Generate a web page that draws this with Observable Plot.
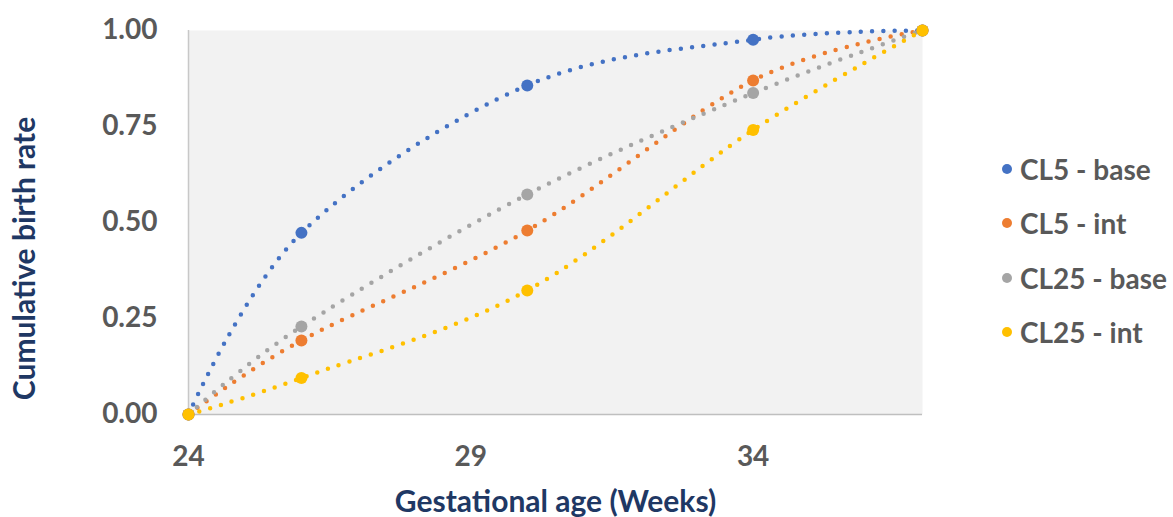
<!DOCTYPE html>
<html>
<head>
<meta charset="utf-8">
<script src="https://cdn.jsdelivr.net/npm/d3@7"></script>
<script src="https://cdn.jsdelivr.net/npm/@observablehq/plot@0.6"></script>
<style>
  html, body { margin: 0; padding: 0; background: #ffffff; }
  #wrap { position: relative; width: 1173px; height: 517px; font-family: Lato, "Open Sans", sans-serif; }
  #legend { position: absolute; left: 998px; top: 142px; }
  .item { display: flex; align-items: center; height: 54.3px; font-weight: 700; font-size: 28px; color: #595959; }
  .sw { width: 10px; height: 10px; border-radius: 50%; margin-right: 8px; margin-left: 4px; }
</style>
</head>
<body>
<div id="wrap"></div>
<script>
const weeks = [24, 26, 30, 34, 37];
const seriesNames = ["CL5 - base", "CL5 - int", "CL25 - base", "CL25 - int"];
const cl5Base = [0, 0.473, 0.857, 0.976, 1.0];
const cl5Int = [0, 0.193, 0.479, 0.870, 1.0];
const cl25Base = [0, 0.229, 0.573, 0.837, 1.0];
const cl25Int = [0, 0.095, 0.323, 0.741, 1.0];
const colors = ["#4472c4", "#ed7d31", "#a5a5a5", "#ffc000"];
const xTicks = [24, 29, 34];
const yTicks = [0, 0.25, 0.5, 0.75, 1.0];
const xTitle = "Gestational age (Weeks)";
const yTitle = "Cumulative birth rate";

const seriesValues = [cl5Base, cl5Int, cl25Base, cl25Int];
const rows = [];
seriesNames.forEach((s, i) => weeks.forEach((w, j) => rows.push({series: s, week: w, value: seriesValues[i][j]})));

const axisFont = {fontSize: 28, fontWeight: 700, fill: "#595959"};

const chart = Plot.plot({
  width: 1173,
  height: 517,
  marginLeft: 188,
  marginRight: 251,
  marginTop: 30,
  marginBottom: 103,
  style: {fontFamily: "Lato, 'Open Sans', sans-serif", background: "#ffffff", overflow: "visible"},
  x: {domain: [24, 37]},
  y: {domain: [0, 1]},
  color: {domain: seriesNames, range: colors},
  marks: [
    Plot.frame({fill: "#f2f2f2", stroke: null}),
    Plot.ruleX([24], {stroke: "#c8c8c8", strokeWidth: 1.5}),
    Plot.ruleY([0], {stroke: "#bfbfbf", strokeWidth: 1.5}),
    Plot.axisX({ticks: xTicks, tickSize: 0, tickPadding: 32, label: null, tickFormat: d => String(d), ...axisFont}),
    Plot.axisY({ticks: yTicks, tickSize: 0, tickPadding: 31, label: null, tickFormat: d3.format(".2f"), ...axisFont}),
    Plot.text([xTitle], {frameAnchor: "bottom", dy: 88, lineAnchor: "middle", textAnchor: "middle", fontSize: 30, fontWeight: 700, fill: "#1f3864"}),
    Plot.text([yTitle], {frameAnchor: "left", dx: -163, dy: 36, rotate: -90, lineAnchor: "middle", textAnchor: "middle", fontSize: 30, fontWeight: 700, fill: "#1f3864"}),
    Plot.lineY(rows, {x: "week", y: "value", z: "series", stroke: "series", curve: "cardinal", strokeWidth: 4.5, strokeDasharray: "0 11.3", strokeLinecap: "round"}),
    Plot.dot(rows, {x: "week", y: "value", fill: "series", r: 6, stroke: null})
  ]
});

const wrap = document.getElementById("wrap");
wrap.appendChild(chart);
const legend = document.createElement("div");
legend.id = "legend";
seriesNames.forEach((s, i) => {
  const it = document.createElement("div");
  it.className = "item";
  const sw = document.createElement("span");
  sw.className = "sw";
  sw.style.background = colors[i];
  const t = document.createElement("span");
  t.textContent = s;
  it.appendChild(sw);
  it.appendChild(t);
  legend.appendChild(it);
});
wrap.appendChild(legend);
</script>
</body>
</html>
